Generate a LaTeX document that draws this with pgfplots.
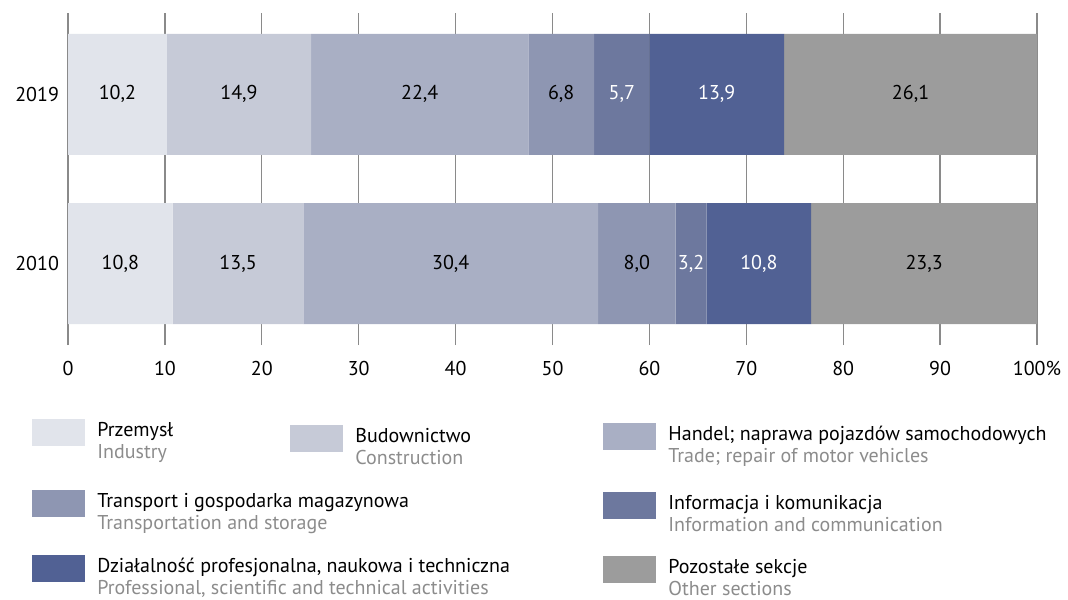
\documentclass[border=0pt]{standalone}
\usepackage{fontspec}
\setmainfont{PT Sans}
\usepackage{pgfplots}
\usepackage{pgfplotstable}
\pgfplotsset{compat=1.18}

\definecolor{cind}{HTML}{E1E4EB}
\definecolor{ccon}{HTML}{C6CAD7}
\definecolor{ctra}{HTML}{A9AFC4}
\definecolor{ctrs}{HTML}{8E96B2}
\definecolor{cinf}{HTML}{6D789E}
\definecolor{cpro}{HTML}{516194}
\definecolor{coth}{HTML}{9C9C9C}
\definecolor{gridc}{HTML}{8A8A8A}
\definecolor{engtxt}{HTML}{8C8C8C}

% shares of sections, %; row 0 = 2010, row 1 = 2019
\pgfplotstableread{
yr  ind   con   tra   trs   inf   pro   oth
0   10.8  13.5  30.4  8.0   3.2   10.8  23.3
1   10.2  14.9  22.4  6.8   5.7   13.9  26.1
}\shares

\newcommand{\legitem}[5]{% x px, top px, colour, Polish, English
  \fill[#3] (#1,#2) rectangle ++(53,27);
  \node[anchor=base west, inner sep=0pt] at (#1+65,#2+17) {#4};
  \node[anchor=base west, inner sep=0pt, text=engtxt] at (#1+65,#2+39) {#5};
}

\begin{document}
\fontsize{10}{12}\selectfont
\begin{tikzpicture}
\begin{axis}[
  xbar stacked,
  scale only axis, width=484.5pt, height=166pt,
  xmin=0, xmax=100, ymin=-0.48, ymax=1.48,
  bar width=60.5pt,
  axis line style={draw=none},
  tick style={draw=none},
  xtick={0,10,...,100},
  xticklabels={0,10,20,30,40,50,60,70,80,90,100\%},
  ytick={0,1}, yticklabels={2010,2019},
  xticklabel style={yshift=-4.5pt},
  yticklabel style={xshift=-1pt},
  ticklabel style={font=\fontsize{10}{12}\selectfont},
  xmajorgrids, grid style={line width=0.65pt, gridc},
  /pgf/number format/assume math mode=true,
  point meta=explicit,
  nodes near coords={\pgfmathprintnumber[fixed,fixed zerofill,precision=1,use comma]{\pgfplotspointmeta}},
  every node near coord/.append style={anchor=center, font=\fontsize{10}{12}\selectfont, text=black},
]
\addplot[fill=cind, draw=none] table[x=ind, y=yr, meta=ind] {\shares};
\addplot[fill=ccon, draw=none] table[x=con, y=yr, meta=con] {\shares};
\addplot[fill=ctra, draw=none] table[x=tra, y=yr, meta=tra] {\shares};
\addplot[fill=ctrs, draw=none] table[x=trs, y=yr, meta=trs] {\shares};
\addplot[fill=cinf, draw=none, every node near coord/.append style={text=white}] table[x=inf, y=yr, meta=inf] {\shares};
\addplot[fill=cpro, draw=none, every node near coord/.append style={text=white}] table[x=pro, y=yr, meta=pro] {\shares};
\addplot[fill=coth, draw=none] table[x=oth, y=yr, meta=oth] {\shares};
\end{axis}
% legend, positions in reference pixels
\begin{scope}[x=0.5pt, y=-0.5pt, shift={(-34pt,172.5pt)}]
\path (0,0) rectangle (1068,599);
\legitem{32}{419}{cind}{Przemysł}{Industry}
\legitem{290}{425}{ccon}{Budownictwo}{Construction}
\legitem{603}{423}{ctra}{Handel; naprawa pojazdów samochodowych}{Trade; repair of motor vehicles}
\legitem{32}{490}{ctrs}{Transport i gospodarka magazynowa}{Transportation and storage}
\legitem{603}{492}{cinf}{Informacja i komunikacja}{Information and communication}
\legitem{32}{555}{cpro}{Działalność profesjonalna, naukowa i techniczna}{Professional, scientific and technical activities}
\legitem{603}{556}{coth}{Pozostałe sekcje}{Other sections}
\end{scope}
\end{tikzpicture}
\end{document}
